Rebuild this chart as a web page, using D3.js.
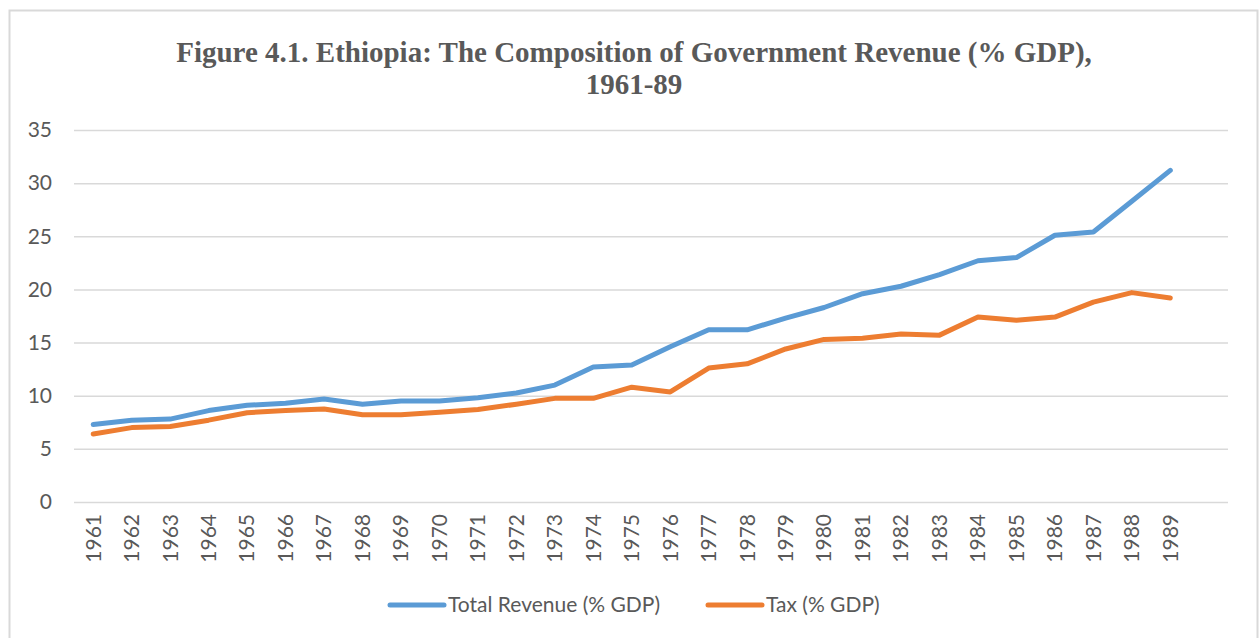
<!DOCTYPE html>
<html>
<head>
<meta charset="utf-8">
<script src="https://cdn.jsdelivr.net/npm/d3@7"></script>
<style>
  body { margin: 0; background: #fff; }
  svg { display: block; }
</style>
</head>
<body>
<div id="chart"></div>
<script>
// data

let years = [
  '1961', '1962', '1963', '1964', '1965', '1966', '1967', '1968', '1969', '1970',
  '1971', '1972', '1973', '1974', '1975', '1976', '1977', '1978', '1979', '1980',
  '1981', '1982', '1983', '1984', '1985', '1986', '1987', '1988', '1989'
]

let totalRevenue = [
  7.3, 7.7, 7.8, 8.6, 9.1, 9.3, 9.7, 9.2, 9.5, 9.5,
  9.8, 10.25, 11.0, 12.7, 12.9, 14.6, 16.2, 16.2, 17.3, 18.3,
  19.6, 20.3, 21.4, 22.7, 23.0, 25.1, 25.4, 28.3, 31.2
]

let tax = [
  6.4, 7.0, 7.1, 7.7, 8.4, 8.6, 8.75, 8.2, 8.2, 8.45,
  8.7, 9.2, 9.75, 9.75, 10.8, 10.35, 12.6, 13.0, 14.4, 15.3,
  15.4, 15.8, 15.7, 17.4, 17.1, 17.4, 18.8, 19.7, 19.2
]

let yTicks = [0, 5, 10, 15, 20, 25, 30, 35]

let seriesNames = ['Total Revenue (% GDP)', 'Tax (% GDP)']
let seriesColors = ['#5b9bd5', '#ed7d31']

////////////////////////////////////////////////////////////////////////
// svg + layout

let width = 1259
let height = 638
let plotLeft = 74
let plotRight = 1228
let plotTop = 130
let plotBottom = 502
let labelFont = 'Lato, "Open Sans", sans-serif'
let labelSize = 21

let svg = d3
  .select('#chart')
  .append('svg')
  .attr('width', width)
  .attr('height', height)

// chart frame
svg
  .append('rect')
  .attr('x', 9.5)
  .attr('y', 10.5)
  .attr('width', 1248)
  .attr('height', 700)
  .attr('fill', 'none')
  .attr('stroke', '#d9d9d9')
  .attr('stroke-width', 2)

// excel leaves one empty slot after the last year
let xScale = d3
  .scaleBand()
  .domain(years.concat(['']))
  .range([plotLeft, plotRight])

let yScale = d3
  .scaleLinear()
  .domain([0, 35])
  .range([plotBottom, plotTop])

function xPos (year) {
  return xScale(year) + xScale.bandwidth() / 2
}

////////////////////////////////////////////////////////////////////////
// title

let title = svg
  .append('text')
  .attr('x', 634)
  .attr('y', 62)
  .attr('text-anchor', 'middle')
  .attr('font-family', '"Liberation Serif", "Times New Roman", serif')
  .attr('font-weight', 'bold')
  .attr('font-size', 29)
  .attr('fill', '#595959')

title.append('tspan')
  .attr('x', 634)
  .text('Figure 4.1. Ethiopia: The Composition of Government Revenue (% GDP),')
title.append('tspan')
  .attr('x', 634)
  .attr('dy', 32)
  .text('1961-89')

////////////////////////////////////////////////////////////////////////
// gridlines + y axis

let yAxis = svg
  .append('g')
  .attr('transform', 'translate(' + plotLeft + ',0)')
  .call(
    d3.axisLeft(yScale)
      .tickValues(yTicks)
      .tickSize(-(plotRight - plotLeft))
      .tickPadding(22)
  )

yAxis.select('.domain').remove()
yAxis.selectAll('.tick line')
  .attr('stroke', '#d9d9d9')
  .attr('stroke-width', 1.5)
yAxis.selectAll('.tick text')
  .attr('font-family', labelFont)
  .attr('font-size', labelSize)
  .attr('fill', '#595959')

// x axis labels (rotated)
let xAxis = svg
  .append('g')
  .attr('transform', 'translate(0,' + plotBottom + ')')
  .call(d3.axisBottom(xScale).tickSize(0).tickPadding(0))

xAxis.select('.domain').remove()
xAxis.selectAll('.tick text')
  .attr('transform', 'rotate(-90)')
  .attr('x', -12)
  .attr('y', 0)
  .attr('dy', '0.35em')
  .attr('text-anchor', 'end')
  .attr('font-family', labelFont)
  .attr('font-size', labelSize)
  .attr('fill', '#595959')

////////////////////////////////////////////////////////////////////////
// lines

let allSeries = [totalRevenue, tax]

let line = d3
  .line()
  .x((d, i) => xPos(years[i]))
  .y(d => yScale(d))

svg
  .append('g')
  .selectAll('.datapath')
  .data(allSeries)
  .enter()
  .append('path')
  .attr('class', 'datapath')
  .attr('d', line)
  .attr('fill', 'none')
  .attr('stroke', (d, i) => seriesColors[i])
  .attr('stroke-width', 5)
  .attr('stroke-linejoin', 'round')
  .attr('stroke-linecap', 'round')

////////////////////////////////////////////////////////////////////////
// legend

let legendX = [390, 708]
let legendY = 605

let legend = svg
  .append('g')
  .selectAll('.legend')
  .data(seriesNames)
  .enter()
  .append('g')
  .attr('class', 'legend')
  .attr('transform', (d, i) => 'translate(' + legendX[i] + ',' + legendY + ')')

legend
  .append('line')
  .attr('x1', 0)
  .attr('x2', 54)
  .attr('stroke', (d, i) => seriesColors[i])
  .attr('stroke-width', 5)
  .attr('stroke-linecap', 'round')

legend
  .append('text')
  .attr('x', 58)
  .attr('dy', '0.35em')
  .attr('font-family', labelFont)
  .attr('font-size', labelSize)
  .attr('fill', '#595959')
  .text(d => d)
</script>
</body>
</html>
